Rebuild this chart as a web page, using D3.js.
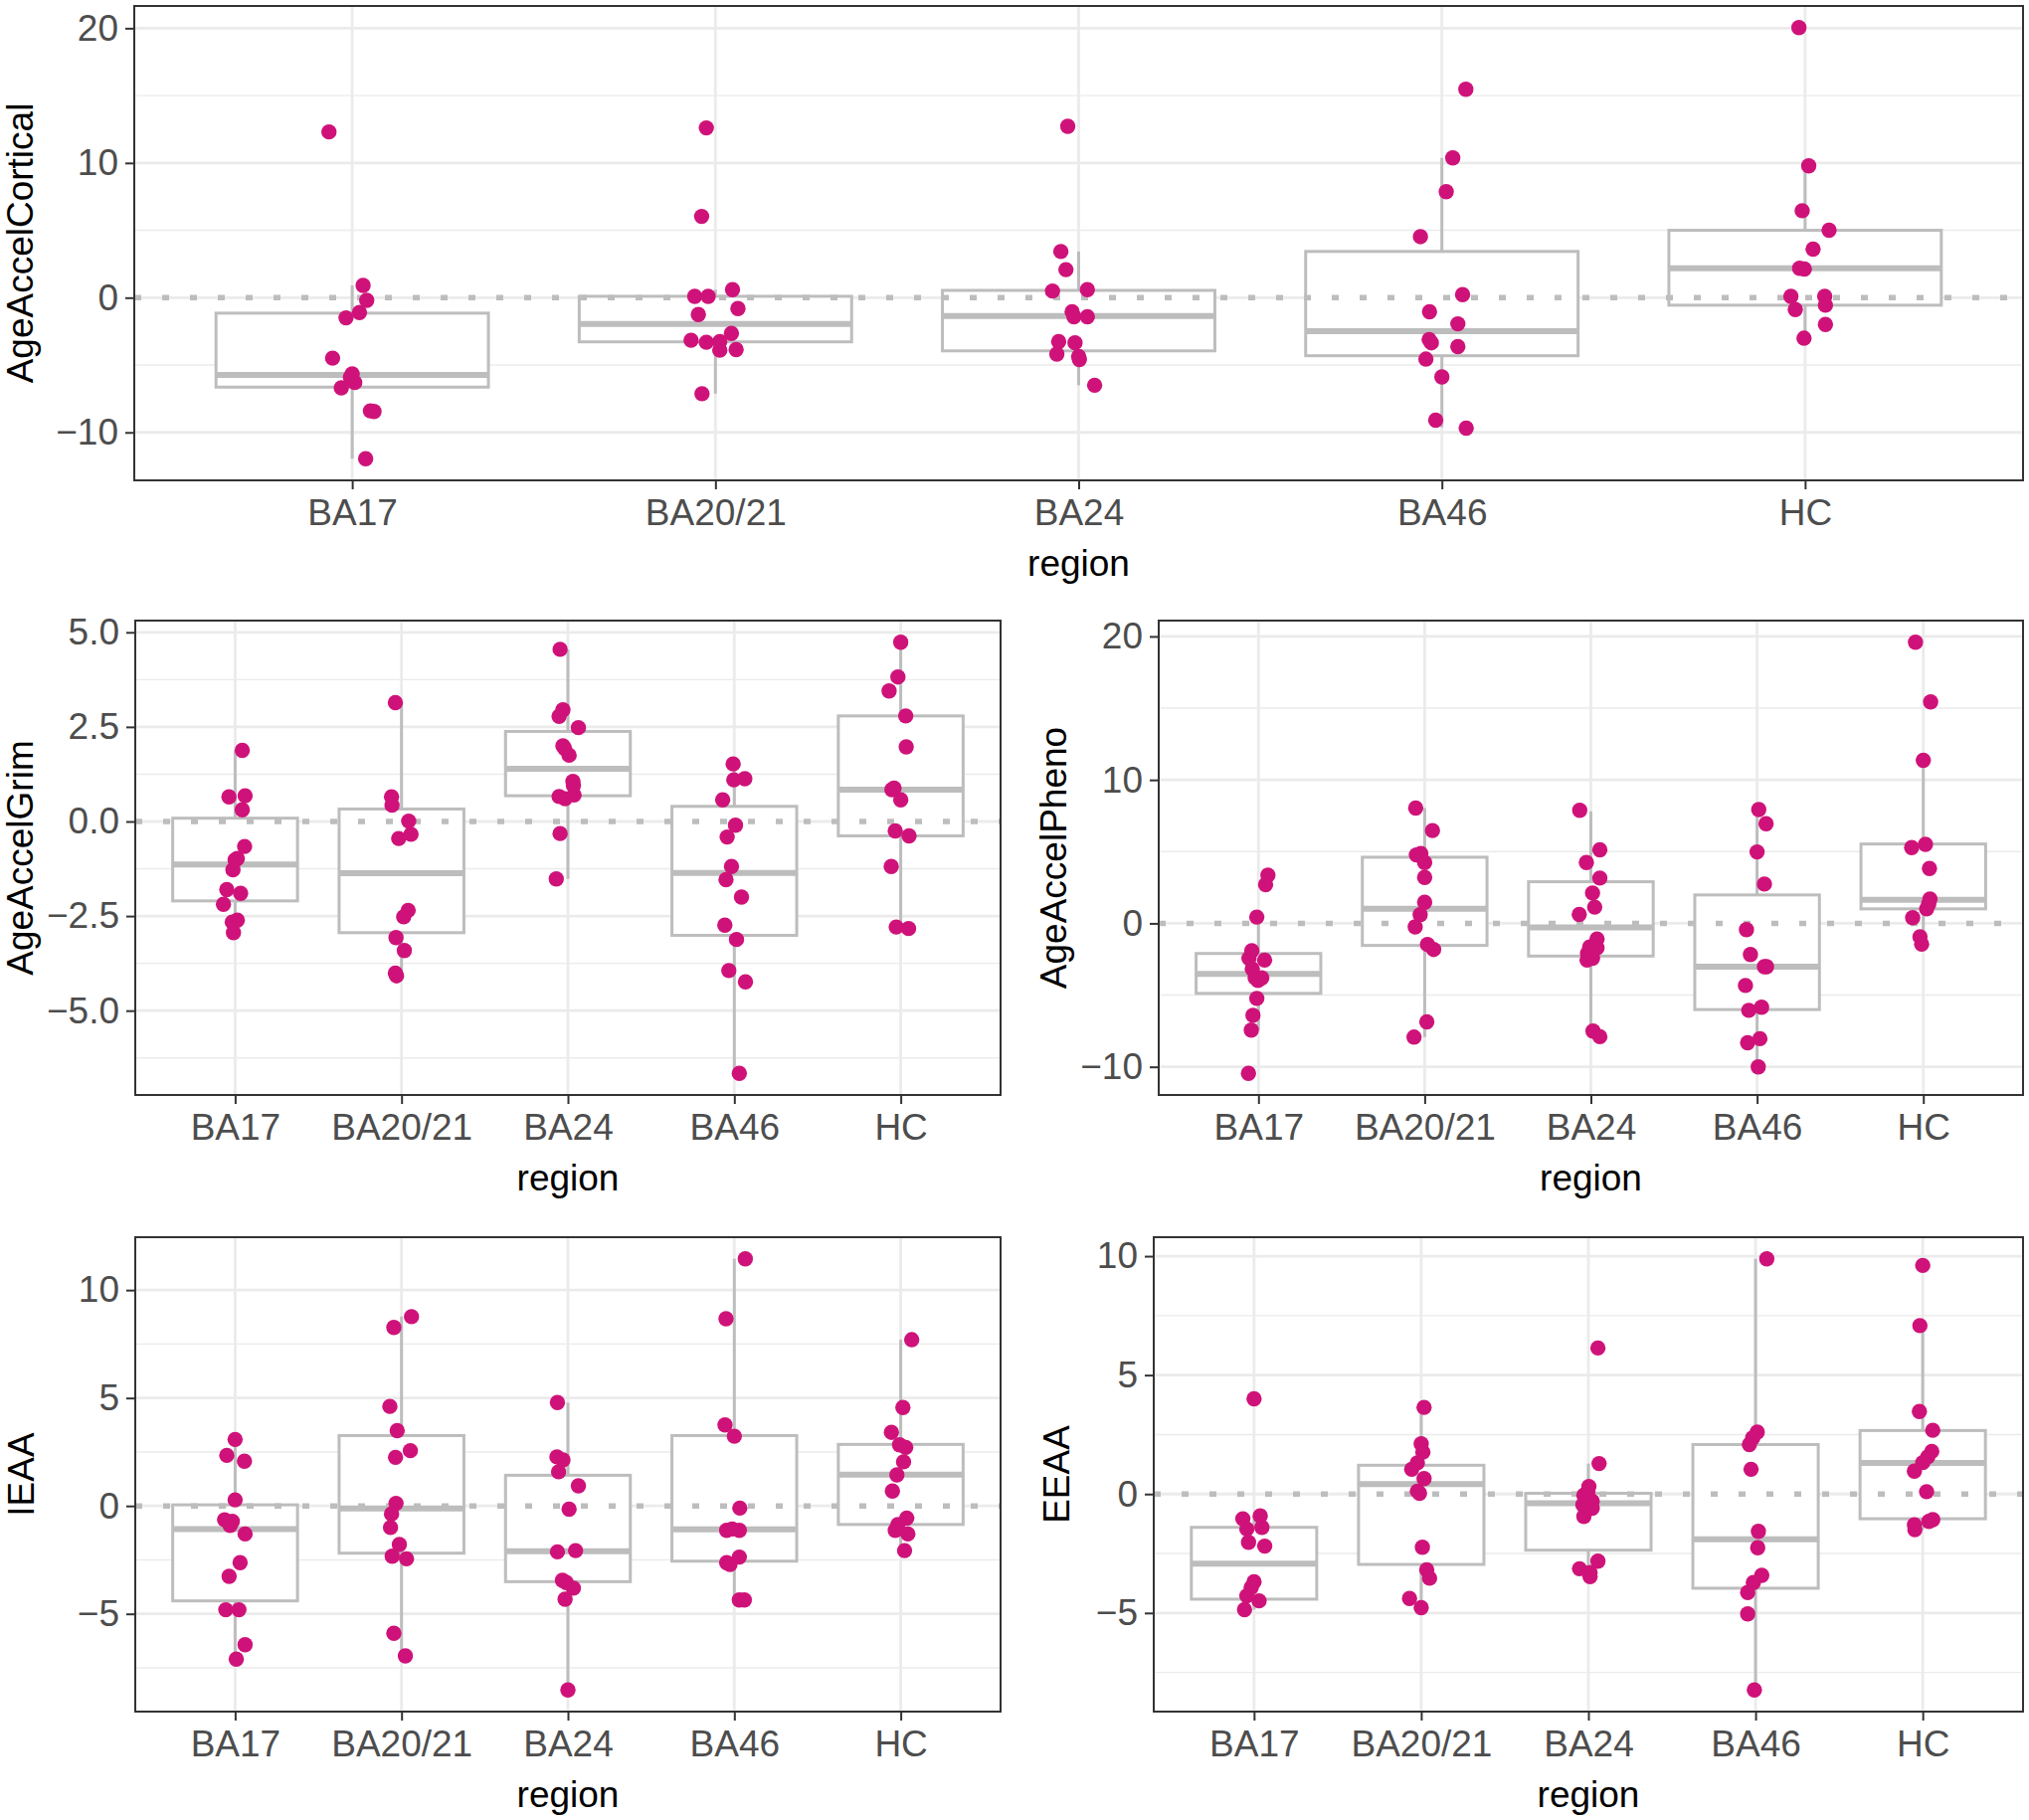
<!DOCTYPE html>
<html>
<head>
<meta charset="utf-8">
<script src="https://cdn.jsdelivr.net/npm/d3@7"></script>
<style>
  body { margin: 0; background: #fff; }
  text { font-family: "Liberation Sans", Arial, Helvetica, sans-serif; }
</style>
</head>
<body>
<svg id="chart" width="2040" height="1830"></svg>
<script>
var regions = ["BA17", "BA20/21", "BA24", "BA46", "HC"];

// each point is [value, jitter] (jitter in units of one category step)
var cortical = [
  [[12.3,-0.064],[0.91,0.03],[-0.2,0.04],[-1.1,0.02],[-1.5,-0.017],[-4.49,-0.054],[-5.66,0.0],[-5.9,-0.005],[-6.3,0.007],[-6.7,-0.03],[-8.4,0.05],[-8.45,0.06],[-11.96,0.037]],
  [[12.6,-0.025],[6.03,-0.038],[0.59,0.047],[0.1,-0.057],[0.1,-0.02],[-0.81,0.062],[-1.25,-0.047],[-2.65,0.044],[-3.16,-0.067],[-3.26,0.012],[-3.31,-0.025],[-3.85,0.057],[-3.9,0.012],[-7.13,-0.037]],
  [[12.72,-0.03],[3.43,-0.049],[2.08,-0.035],[0.49,-0.072],[0.59,0.024],[-1.05,-0.018],[-1.42,-0.013],[-1.42,0.024],[-3.26,-0.055],[-3.35,-0.01],[-4.19,-0.06],[-4.36,0.0],[-4.6,0.002],[-6.5,0.044]],
  [[15.47,0.066],[10.37,0.03],[7.87,0.012],[4.53,-0.059],[0.22,0.057],[-1.05,-0.034],[-1.94,0.044],[-3.11,-0.035],[-3.35,-0.029],[-3.63,0.044],[-4.56,-0.044],[-5.88,0.0],[-9.09,-0.017],[-9.68,0.067]],
  [[20.05,-0.017],[9.78,0.01],[6.45,-0.008],[5.0,0.066],[3.6,0.022],[2.18,-0.015],[2.13,-0.002],[0.1,-0.039],[0.1,0.054],[-0.56,0.056],[-0.88,-0.027],[-1.99,0.056],[-3.01,-0.003]]
];
// [lower whisker, q1, median, q3, upper whisker]
var corticalBox = [[-11.96,-6.64,-5.74,-1.15,0.91],[-7.13,-3.28,-1.96,0.1,0.59],[-6.5,-3.95,-1.37,0.54,3.43],[-9.63,-4.31,-2.48,3.43,10.37],[-3.01,-0.56,2.18,5.0,9.78]];
var corticalTicks = [-10, 0, 10, 20];

var grim = [
  [[1.88,0.043],[0.68,0.06],[0.65,-0.037],[0.31,0.043],[-0.66,0.057],[-0.98,0.013],[-1.02,0.0],[-1.28,-0.013],[-1.8,-0.05],[-1.9,0.033],[-2.19,-0.07],[-2.61,0.013],[-2.66,-0.017],[-2.94,-0.01]],
  [[3.14,-0.037],[0.65,-0.06],[0.43,-0.057],[0.01,0.043],[-0.34,0.057],[-0.45,-0.017],[-2.35,0.04],[-2.52,0.013],[-3.07,-0.033],[-3.41,0.017],[-4.01,-0.037],[-4.08,-0.03]],
  [[4.55,-0.047],[2.95,-0.03],[2.78,-0.053],[2.48,0.063],[2.0,-0.03],[1.93,-0.02],[1.75,0.007],[1.06,0.03],[0.95,0.033],[0.7,0.037],[0.66,-0.053],[0.6,-0.017],[-0.32,-0.047],[-1.52,-0.07]],
  [[1.52,-0.007],[1.1,-0.003],[1.13,0.063],[0.57,-0.07],[-0.1,0.007],[-0.41,-0.043],[-1.19,-0.017],[-1.54,-0.05],[-2.0,0.043],[-2.74,-0.057],[-3.12,0.013],[-3.94,-0.033],[-4.24,0.067],[-6.66,0.03]],
  [[4.74,0.0],[3.82,-0.017],[3.45,-0.07],[2.79,0.03],[1.97,0.033],[0.88,-0.04],[0.84,-0.053],[0.57,0.0],[-0.25,-0.033],[-0.38,0.05],[-1.19,-0.057],[-2.79,-0.027],[-2.83,0.047]]
];
var grimBox = [[-2.94,-2.10,-1.14,0.087,1.88],[-4.05,-2.94,-1.37,0.33,3.14],[-1.52,0.68,1.39,2.38,4.55],[-6.66,-3.01,-1.36,0.40,1.52],[-2.83,-0.38,0.84,2.79,4.74]];
var grimTicks = [-5, -2.5, 0, 2.5, 5];

var pheno = [
  [[3.36,0.057],[2.7,0.043],[0.44,-0.01],[-1.91,-0.04],[-2.44,-0.057],[-2.56,0.037],[-3.18,-0.037],[-3.78,-0.02],[-3.8,0.02],[-3.97,-0.003],[-5.23,-0.01],[-6.41,-0.033],[-7.44,-0.043],[-10.46,-0.06]],
  [[8.04,-0.054],[6.47,0.047],[4.86,-0.023],[4.77,-0.05],[4.24,0.0],[3.2,0.0],[1.47,0.0],[0.6,-0.027],[-0.25,-0.057],[-1.47,0.017],[-1.82,0.054],[-6.87,0.013],[-7.93,-0.064]],
  [[7.88,-0.067],[5.12,0.054],[4.24,-0.027],[3.16,0.054],[2.12,0.01],[1.13,0.023],[0.62,-0.07],[-1.1,0.037],[-1.64,-0.007],[-1.7,0.037],[-2.1,-0.02],[-2.44,0.01],[-2.56,-0.023],[-7.51,0.013],[-7.9,0.054]],
  [[7.93,0.01],[6.94,0.054],[4.98,0.0],[2.74,0.044],[-0.44,-0.064],[-2.17,-0.04],[-3.02,0.044],[-3.02,0.057],[-4.33,-0.07],[-5.85,0.027],[-6.06,-0.05],[-8.04,0.017],[-8.32,-0.057],[-10.0,0.007]],
  [[19.6,-0.047],[15.44,0.044],[11.36,0.0],[5.51,0.013],[5.28,-0.07],[3.82,0.037],[1.7,0.04],[1.36,0.033],[1.01,0.02],[0.39,-0.064],[-0.94,-0.02],[-1.45,-0.01]]
];
var phenoBox = [[-7.44,-4.88,-3.53,-2.1,0.44],[-7.93,-1.54,1.01,4.61,8.04],[-7.51,-2.28,-0.28,2.9,7.81],[-10.0,-6.01,-3.02,1.98,7.93],[-1.45,1.01,1.64,5.53,11.36]];
var phenoTicks = [-10, 0, 10, 20];

var ieaa = [
  [[3.08,0.0],[2.34,-0.05],[2.07,0.056],[0.28,0.0],[-0.64,-0.063],[-0.72,-0.017],[-0.9,-0.03],[-1.3,0.06],[-2.63,0.03],[-3.26,-0.036],[-4.81,-0.056],[-4.81,0.023],[-6.43,0.06],[-7.1,0.007]],
  [[8.77,0.06],[8.27,-0.046],[4.61,-0.07],[3.49,-0.026],[2.56,0.053],[2.25,-0.036],[0.12,-0.033],[-0.37,-0.06],[-1.0,-0.066],[-1.79,-0.013],[-2.33,-0.056],[-2.45,0.03],[-5.9,-0.046],[-6.95,0.023]],
  [[4.79,-0.063],[2.27,-0.066],[2.13,-0.03],[1.58,-0.056],[0.93,0.063],[-0.15,0.007],[-2.13,-0.063],[-2.07,0.046],[-3.45,-0.033],[-3.55,-0.01],[-3.81,0.033],[-4.32,-0.017],[-8.53,0.0]],
  [[11.45,0.066],[8.67,-0.05],[3.75,-0.056],[3.23,0.0],[-0.1,0.033],[-1.13,-0.046],[-1.07,-0.013],[-1.13,0.03],[-2.37,0.03],[-2.63,-0.046],[-2.71,-0.026],[-4.36,0.03],[-4.36,0.06]],
  [[7.7,0.066],[4.56,0.013],[3.41,-0.056],[2.83,-0.007],[2.71,0.03],[2.04,0.017],[1.44,-0.023],[0.69,-0.05],[-0.57,0.036],[-0.87,-0.017],[-1.13,-0.033],[-1.3,0.043],[-2.07,0.023]]
];
var ieaaBox = [[-7.1,-4.4,-1.07,0.05,3.08],[-6.95,-2.19,-0.12,3.26,8.77],[-8.53,-3.51,-2.1,1.42,4.79],[-4.36,-2.56,-1.09,3.26,11.45],[-2.07,-0.86,1.45,2.85,7.7]];
var ieaaTicks = [-5, 0, 5, 10];

var eeaa = [
  [[4.0,0.0],[-0.92,0.037],[-1.04,-0.067],[-1.47,-0.043],[-1.4,0.047],[-2.03,-0.033],[-2.19,0.064],[-3.69,0.0],[-3.93,-0.017],[-4.28,-0.043],[-4.49,0.03],[-4.86,-0.057]],
  [[3.64,0.017],[2.11,0.0],[1.76,0.01],[1.31,-0.023],[1.04,-0.057],[0.65,0.017],[0.12,-0.023],[0.03,-0.01],[-2.24,0.007],[-3.19,0.033],[-3.54,0.05],[-4.39,-0.07],[-4.78,0.0]],
  [[6.14,0.057],[1.28,0.064],[0.32,0.003],[0.12,-0.003],[-0.05,-0.027],[-0.3,0.023],[-0.45,-0.033],[-0.6,0.023],[-0.94,-0.027],[-2.82,0.057],[-3.14,-0.053],[-3.3,0.01],[-3.47,0.01]],
  [[9.89,0.067],[2.6,0.01],[2.36,-0.017],[2.08,-0.037],[1.04,-0.027],[-1.57,0.017],[-2.26,0.013],[-3.42,0.037],[-3.72,-0.013],[-4.14,-0.047],[-5.04,-0.047],[-8.24,-0.007]],
  [[9.61,0.0],[7.08,-0.017],[3.47,-0.02],[2.68,0.06],[1.79,0.054],[1.56,0.03],[1.32,0.0],[0.96,-0.05],[0.1,0.023],[-1.08,0.06],[-1.15,0.037],[-1.29,-0.05],[-1.5,-0.047]]
];
var eeaaBox = [[-4.86,-4.42,-2.93,-1.4,-0.92],[-4.78,-2.96,0.42,1.21,3.64],[-3.47,-2.36,-0.39,0.03,1.28],[-8.24,-3.96,-1.9,2.08,9.89],[-1.5,-1.04,1.31,2.67,7.08]];
var eeaaTicks = [-5, 0, 5, 10];

var panels = [
  {title: "AgeAccelCortical", pts: cortical, box: corticalBox, ticks: corticalTicks, fmt: "d",   left: 135,  right: 2034, top: 6,    bottom: 483,  titleX: 33},
  {title: "AgeAccelGrim",     pts: grim,     box: grimBox,     ticks: grimTicks,     fmt: ".1f", left: 136,  right: 1006, top: 624,  bottom: 1101, titleX: 33},
  {title: "AgeAccelPheno",    pts: pheno,    box: phenoBox,    ticks: phenoTicks,    fmt: "d",   left: 1165, right: 2034, top: 624,  bottom: 1101, titleX: 1072},
  {title: "IEAA",             pts: ieaa,     box: ieaaBox,     ticks: ieaaTicks,     fmt: "d",   left: 136,  right: 1006, top: 1244, bottom: 1721, titleX: 34},
  {title: "EEAA",             pts: eeaa,     box: eeaaBox,     ticks: eeaaTicks,     fmt: "d",   left: 1160, right: 2034, top: 1244, bottom: 1721, titleX: 1075}
];

var svg = d3.select("#chart");
var pointColor = "#CF1279";
var boxColor = "#BDBDBD";
var gridColor = "#EBEBEB";
var fontSize = 37;

panels.forEach(function(p) {
  var g = svg.append("g");

  // y domain like ggplot: data range plus 5% each side
  var all = [];
  p.pts.forEach(function(grp) { grp.forEach(function(d) { all.push(d[0]); }); });
  var ext = d3.extent(all);
  var pad = (ext[1] - ext[0]) * 0.05;

  var y = d3.scaleLinear().domain([ext[0] - pad, ext[1] + pad]).range([p.bottom, p.top]);
  var x = d3.scalePoint().domain(regions).range([p.left, p.right]).padding(0.6);
  var step = x.step();

  // minor grid: halfway between major ticks
  var half = (p.ticks[1] - p.ticks[0]) / 2;
  var minor = [];
  for (var i = -1; i < p.ticks.length; i++) {
    var v = (i < 0 ? p.ticks[0] - half : p.ticks[i] + half);
    if (v > y.domain()[0] && v < y.domain()[1]) minor.push(v);
  }
  g.selectAll(".minor").data(minor).enter().append("line")
    .attr("x1", p.left).attr("x2", p.right)
    .attr("y1", function(d) { return y(d); }).attr("y2", function(d) { return y(d); })
    .attr("stroke", gridColor).attr("stroke-width", 1.4);
  g.selectAll(".major").data(p.ticks).enter().append("line")
    .attr("x1", p.left).attr("x2", p.right)
    .attr("y1", function(d) { return y(d); }).attr("y2", function(d) { return y(d); })
    .attr("stroke", gridColor).attr("stroke-width", 2.8);
  g.selectAll(".vgrid").data(regions).enter().append("line")
    .attr("x1", function(d) { return x(d); }).attr("x2", function(d) { return x(d); })
    .attr("y1", p.top).attr("y2", p.bottom)
    .attr("stroke", gridColor).attr("stroke-width", 2.8);

  // boxplots
  var bw = step * 0.75;
  var boxes = g.selectAll(".box").data(p.box).enter().append("g");
  boxes.append("line")
    .attr("x1", function(d, i) { return x(regions[i]); }).attr("x2", function(d, i) { return x(regions[i]); })
    .attr("y1", function(d) { return y(d[4]); }).attr("y2", function(d) { return y(d[3]); })
    .attr("stroke", boxColor).attr("stroke-width", 3);
  boxes.append("line")
    .attr("x1", function(d, i) { return x(regions[i]); }).attr("x2", function(d, i) { return x(regions[i]); })
    .attr("y1", function(d) { return y(d[1]); }).attr("y2", function(d) { return y(d[0]); })
    .attr("stroke", boxColor).attr("stroke-width", 3);
  boxes.append("rect")
    .attr("x", function(d, i) { return x(regions[i]) - bw / 2; })
    .attr("width", bw)
    .attr("y", function(d) { return y(d[3]); })
    .attr("height", function(d) { return y(d[1]) - y(d[3]); })
    .attr("fill", "#fff").attr("stroke", boxColor).attr("stroke-width", 3);
  boxes.append("line")
    .attr("x1", function(d, i) { return x(regions[i]) - bw / 2; })
    .attr("x2", function(d, i) { return x(regions[i]) + bw / 2; })
    .attr("y1", function(d) { return y(d[2]); }).attr("y2", function(d) { return y(d[2]); })
    .attr("stroke", boxColor).attr("stroke-width", 6);

  // dotted reference line at zero
  g.append("line")
    .attr("x1", p.left).attr("x2", p.right)
    .attr("y1", y(0)).attr("y2", y(0))
    .attr("stroke", boxColor).attr("stroke-width", 5.5)
    .attr("stroke-dasharray", "7 21");

  // jittered points
  p.pts.forEach(function(grp, i) {
    g.selectAll(null).data(grp).enter().append("circle")
      .attr("cx", function(d) { return x(regions[i]) + d[1] * step; })
      .attr("cy", function(d) { return y(d[0]); })
      .attr("r", 7.7)
      .attr("fill", pointColor);
  });

  // panel border
  g.append("rect")
    .attr("x", p.left).attr("y", p.top)
    .attr("width", p.right - p.left).attr("height", p.bottom - p.top)
    .attr("fill", "none").attr("stroke", "#333333").attr("stroke-width", 2);

  // axes
  var yAxis = g.append("g").attr("transform", "translate(" + p.left + ",0)")
    .call(d3.axisLeft(y).tickValues(p.ticks).tickFormat(d3.format(p.fmt)).tickSize(9).tickPadding(7));
  var xAxis = g.append("g").attr("transform", "translate(0," + p.bottom + ")")
    .call(d3.axisBottom(x).tickSize(9).tickPadding(10));
  [yAxis, xAxis].forEach(function(a) {
    a.select(".domain").remove();
    a.selectAll(".tick line").attr("stroke", "#333333").attr("stroke-width", 2);
    a.selectAll(".tick text").attr("fill", "#4D4D4D").style("font-size", fontSize + "px")
      .style("font-family", "'Liberation Sans', Arial, sans-serif");
  });

  // axis titles
  g.append("text")
    .attr("x", (p.left + p.right) / 2).attr("y", p.bottom + 96)
    .attr("text-anchor", "middle").attr("fill", "#000")
    .style("font-size", fontSize + "px")
    .text("region");
  g.append("text")
    .attr("transform", "translate(" + p.titleX + "," + (p.top + p.bottom) / 2 + ") rotate(-90)")
    .attr("text-anchor", "middle").attr("fill", "#000")
    .style("font-size", fontSize + "px")
    .text(p.title);
});
</script>
</body>
</html>
